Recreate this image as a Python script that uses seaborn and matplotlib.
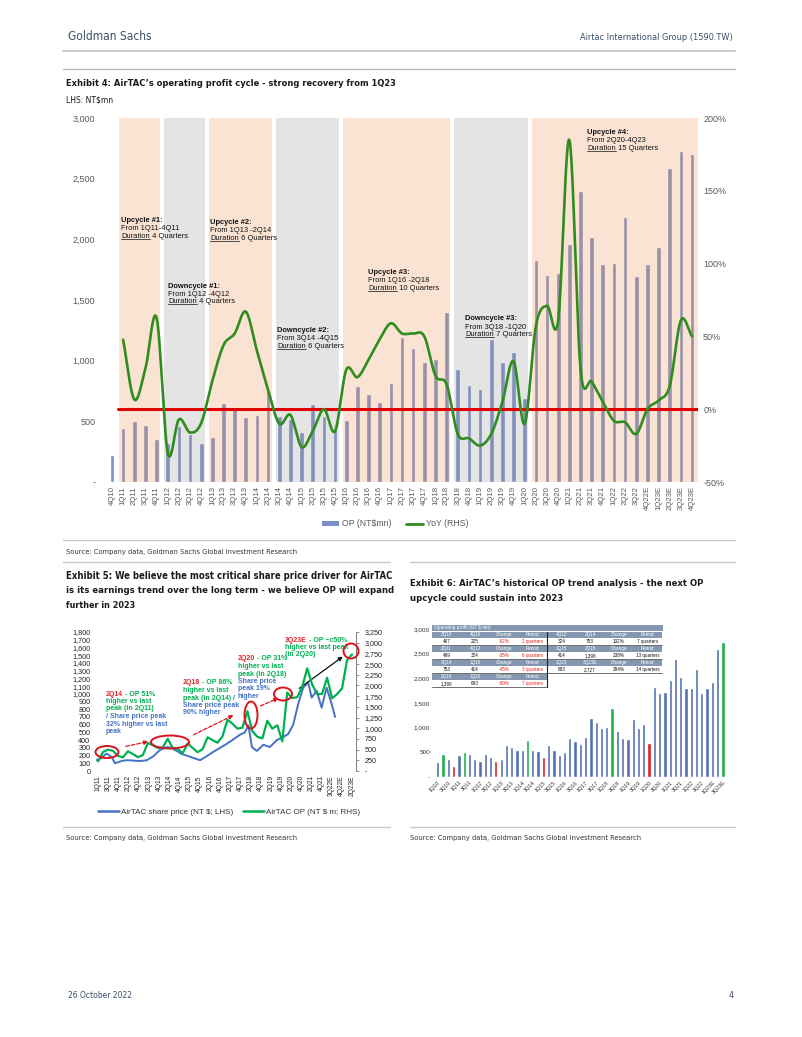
import numpy as np
import matplotlib
matplotlib.use("Agg")
import matplotlib.pyplot as plt
import seaborn as sns
from matplotlib import font_manager as fm
from matplotlib.lines import Line2D
from matplotlib.patches import Patch, Ellipse, Rectangle

# ---------------- data ----------------
quarters = ["4Q10", "1Q11", "2Q11", "3Q11", "4Q11", "1Q12", "2Q12", "3Q12", "4Q12",
            "1Q13", "2Q13", "3Q13", "4Q13", "1Q14", "2Q14", "3Q14", "4Q14",
            "1Q15", "2Q15", "3Q15", "4Q15", "1Q16", "2Q16", "3Q16", "4Q16",
            "1Q17", "2Q17", "3Q17", "4Q17", "1Q18", "2Q18", "3Q18", "4Q18",
            "1Q19", "2Q19", "3Q19", "4Q19", "1Q20", "2Q20", "3Q20", "4Q20",
            "1Q21", "2Q21", "3Q21", "4Q21", "1Q22", "2Q22", "3Q22", "4Q22E",
            "1Q23E", "2Q23E", "3Q23E", "4Q23E"]
op = [225, 444, 499, 471, 356, 318, 460, 397, 324,
      370, 655, 603, 538, 550, 753, 540, 518,
      414, 642, 540, 440, 510, 788, 722, 662,
      812, 1198, 1105, 992, 1013, 1398, 928, 800,
      763, 1175, 990, 1068, 693, 1832, 1706, 1726,
      1965, 2400, 2023, 1796, 1805, 2183, 1700, 1798,
      1933, 2590, 2727, 2700]
# YoY (%) from 1Q11 to 4Q23E
yoy = [47.7, 6.7, 28, 62.7, -30, -7, -16, -9.5,
       19.5, 44, 52, 67, 40, 13, -10, -4,
       -26, -15, 0, -15, 27, 22, 34, 48,
       59, 52, 52, 50, 23, 17, -17, -20,
       -25, -17, 5, 33, -10, 57, 71, 61,
       185, 28, 19, 5, -8, -9, -17, 0,
       6, 16, 61, 50]

cycle_start = [1, 5, 9, 15, 21, 31, 38]
cycle_end = [4, 8, 14, 20, 30, 37, 52]
cycle_kind = ["up", "down", "up", "down", "up", "down", "up"]
cycle_titles = ["Upcycle #1:", "Upcycle #2:", "Downcycle #1:", "Downcycle #2:",
                "Upcycle #3:", "Downcycle #3:", "Upcycle #4:"]
cycle_from = ["From 1Q11-4Q11", "From 1Q13 -2Q14", "From 1Q12 -4Q12", "From 3Q14 -4Q15",
              "From 1Q16 -2Q18", "From 3Q18 -1Q20", "From 2Q20-4Q23"]
cycle_dur = ["4 Quarters", "6 Quarters", "4 Quarters", "6 Quarters",
             "10 Quarters", "7 Quarters", "15 Quarters"]

left_ticks = [0, 500, 1000, 1500, 2000, 2500, 3000]
left_tick_labels = ["-", "500", "1,000", "1,500", "2,000", "2,500", "3,000"]
right_ticks = [-50, 0, 50, 100, 150, 200]
right_tick_labels = ["-50%", "0%", "50%", "100%", "150%", "200%"]

# Exhibit 5: share price (NT$) at quarter index (0 = 4Q10)
sp_q = [-0.3, 0.7, 1.7, 2.75, 3.4, 4.8, 5.8, 7.1, 8.4, 9.8, 11.1, 12.4, 13.8, 14.8,
        15.8, 16.8, 17.8, 19.1, 20.5, 21.8, 23.2, 24.5, 25.8, 27.2, 28.5, 29.5,
        30.2, 30.9, 31.9, 33.2, 34.5, 35.9, 37.2, 38.2, 39.2, 40.2, 41.2, 42.2,
        42.9, 43.9, 44.9, 45.9, 46.9, 47.6]
sp_val = [140, 170, 225, 180, 100, 130, 140, 135, 128, 140, 190, 270, 310, 300,
          260, 220, 200, 170, 140, 190, 250, 300, 350, 410, 470, 500,
          590, 310, 260, 340, 310, 400, 440, 480, 600, 870, 1080, 1145,
          950, 1040, 820, 1080, 870, 700]
ex5_xlabels = ["1Q11", "3Q11", "4Q11", "2Q12", "4Q12", "2Q13", "4Q13", "2Q14", "4Q14",
               "2Q15", "4Q15", "2Q16", "4Q16", "2Q17", "4Q17", "2Q18", "4Q18", "2Q19",
               "4Q19", "2Q20", "4Q20", "2Q21", "4Q21", "3Q22E", "4Q22E", "2Q23E"]
ex5_left_ticks = list(range(0, 1801, 100))
ex5_right_ticks = list(range(0, 3251, 250))

# Exhibit 6
ex6_pre_q = ["1Q10", "2Q10", "3Q10"]
ex6_pre_op = [307, 467, 355]
ex6_peaks = ["2Q10", "2Q11", "2Q14", "2Q18", "3Q23E"]
ex6_troughs = ["4Q10", "4Q12", "1Q15", "1Q20"]
tbl_left = [("2Q10", "4Q10", "467", "225", "-52%", "2 quarters"),
            ("2Q11", "4Q12", "499", "324", "-35%", "6 quarters"),
            ("2Q14", "1Q15", "753", "414", "-45%", "3 quarters"),
            ("2Q18", "1Q20", "1,398", "693", "-50%", "7 quarters")]
tbl_right = [("4Q12", "2Q14", "324", "753", "132%", "7 quarters"),
             ("1Q15", "2Q18", "414", "1,398", "238%", "13 quarters"),
             ("1Q20", "3Q23E", "693", "2,727", "294%", "14 quarters")]

# ---------------- style ----------------
sns.set_theme(style="white")
SANS = ["Liberation Sans", "DejaVu Sans"]
plt.rcParams["font.family"] = SANS

_fonts = fm.fontManager.ttflist
if any(f.name == "Liberation Sans Narrow" for f in _fonts):
    COND = dict(family=["Liberation Sans Narrow", "DejaVu Sans"])
elif any(f.name == "DejaVu Sans" and f.stretch in ("condensed", "semi-condensed") for f in _fonts):
    COND = dict(family=["DejaVu Sans"], fontstretch="condensed")
else:
    COND = dict(family=["Roboto", "Liberation Sans", "DejaVu Sans"])

W, H = 802, 1037
fig = plt.figure(figsize=(W / 100, H / 100), dpi=100)
fig.patch.set_facecolor("white")
REND = fig.canvas.get_renderer()


def fx(x):
    return x / W


def fy(y):
    return 1 - y / H


def rect(l, t, r, b):
    return [l / W, 1 - b / H, (r - l) / W, (b - t) / H]


def hline(x0, x1, y, color="#C8C8C8", lw=1.2):
    fig.add_artist(Line2D([fx(x0), fx(x1)], [fy(y), fy(y)], transform=fig.transFigure,
                          color=color, lw=lw))


def txt(x, y, s, **kw):
    kw.setdefault("va", "center")
    return fig.text(fx(x), fy(y), s, **kw)


def ctxt(x, y, s, width, size, **kw):
    """condensed-style text scaled to the reference width"""
    kw.update(COND)
    t = txt(x, y, s, fontsize=size, **kw)
    w = t.get_window_extent(REND).width
    if w > 0:
        t.set_fontsize(min(size * 1.15, size * width / w))
    return t


NAVY = "#3D4F6B"
GREY_T = "#595959"
BAR = "#7B90C8"
GREEN4 = "#2F8C1E"

# ---------------- page furniture ----------------
ctxt(68, 37, "Goldman Sachs", 84, 9.5, color=NAVY)
ctxt(733, 38, "Airtac International Group (1590.TW)", 153, 7.2, color=NAVY, ha="right")
hline(63, 735, 51, "#C9C9C9", 1.4)
hline(63, 735, 69, "#BDBDBD", 1.0)
ctxt(66, 84, "Exhibit 4: AirTAC\u2019s operating profit cycle - strong recovery from 1Q23", 328,
     8.5, fontweight="bold", color="#1A1A1A")
ctxt(66, 100, "LHS: NT$mn", 47, 7.5, color="#1A1A1A")
hline(63, 735, 540, "#C8C8C8", 1.0)
ctxt(66, 552, "Source: Company data, Goldman Sachs Global Investment Research", 227, 5.8,
     color="#333333")
hline(63, 390, 562, "#C8C8C8", 1.0)
hline(410, 735, 562, "#C8C8C8", 1.0)
for i, (line, wd) in enumerate([("Exhibit 5: We believe the most critical share price driver for AirTAC", 324),
                                ("is its earnings trend over the long term - we believe OP will expand", 325),
                                ("further in 2023", 69)]):
    ctxt(66, 576 + i * 14.5, line, wd, 8.5, fontweight="bold", color="#1A1A1A")
for i, (line, wd) in enumerate([("Exhibit 6: AirTAC\u2019s historical OP trend analysis - the next OP", 289),
                                ("upcycle could sustain into 2023", 152)]):
    ctxt(410, 584 + i * 14.5, line, wd, 8.5, fontweight="bold", color="#1A1A1A")
hline(63, 390, 827, "#C8C8C8", 1.0)
hline(410, 735, 827, "#C8C8C8", 1.0)
ctxt(66, 838, "Source: Company data, Goldman Sachs Global Investment Research", 227, 5.8,
     color="#333333")
ctxt(410, 838, "Source: Company data, Goldman Sachs Global Investment Research", 227, 5.8,
     color="#333333")
ctxt(68, 996, "26 October 2022", 65, 7.2, color=NAVY)
ctxt(734, 996, "4", 5, 7.2, color=NAVY, ha="right")

# ---------------- Exhibit 4 ----------------
ax = fig.add_axes(rect(106.4, 118, 697.6, 482))
sns.barplot(x=quarters, y=op, color=BAR, width=0.42, saturation=1, ax=ax, zorder=1)
ax.set_xlim(-0.5, len(quarters) - 0.5)
ax.set_ylim(0, 3000)
band_col = {"up": "#F39353", "down": "#979797"}
for s, e, k in zip(cycle_start, cycle_end, cycle_kind):
    x0 = s - 0.5 + 0.17
    x1 = e + 0.5 - (0.0 if e == len(quarters) - 1 else 0.17)
    ax.axvspan(x0, x1, color=band_col[k], alpha=0.25, lw=0, zorder=2)
ax.set_yticks(left_ticks)
ax.set_yticklabels(left_tick_labels)
ax.tick_params(axis="y", length=0, pad=8, labelsize=6.5, labelcolor=GREY_T)
ax.tick_params(axis="x", length=0, pad=3, labelsize=5.6, labelcolor=GREY_T, rotation=90)
ax.set_xlabel("")
ax.set_ylabel("")
for sp in ax.spines.values():
    sp.set_visible(False)
ax.grid(False)


def catmull(xs, ys, n=24):
    P = np.column_stack([xs, ys]).astype(float)
    E = np.vstack([2 * P[0] - P[1], P, 2 * P[-1] - P[-2]])
    t = np.linspace(0, 1, n, endpoint=False)[:, None]
    out = []
    for i in range(1, len(E) - 2):
        p0, p1, p2, p3 = E[i - 1], E[i], E[i + 1], E[i + 2]
        out.append(0.5 * (2 * p1 + (-p0 + p2) * t + (2 * p0 - 5 * p1 + 4 * p2 - p3) * t ** 2
                          + (-p0 + 3 * p1 - 3 * p2 + p3) * t ** 3))
    out.append(P[-1][None, :])
    return np.vstack(out)


ax2 = ax.twinx()
ax2.set_ylim(-50, 200)
ax2.set_xlim(-0.5, len(quarters) - 0.5)
ax2.axhline(0, xmin=1.0 / len(quarters), xmax=1, color="#E00000", lw=2.2, zorder=3)
curve = catmull(np.arange(1, len(quarters)), yoy)
ax2.plot(curve[:, 0], curve[:, 1], color=GREEN4, lw=1.9, zorder=4, solid_capstyle="round")
ax2.set_yticks(right_ticks)
ax2.set_yticklabels(right_tick_labels)
ax2.tick_params(axis="y", length=0, pad=4, labelsize=6.5, labelcolor=GREY_T)
for sp in ax2.spines.values():
    sp.set_visible(False)
ax2.grid(False)

note_pos = [(121, 221), (210, 223), (168, 286), (277, 331), (368, 273), (465, 319), (587, 133)]
dur_texts = []
for (x, y), ttl, frm, dur in zip(note_pos, cycle_titles, cycle_from, cycle_dur):
    txt(x, y, ttl, fontsize=5.4, fontweight="bold", color="#111111")
    txt(x, y + 8, frm, fontsize=5.4, color="#111111")
    t = txt(x, y + 16, "Duration", fontsize=5.4, color="#111111")
    ax.annotate(" " + dur, xy=(1, 0.5), xycoords=t, va="center", ha="left",
                fontsize=5.4, color="#111111", annotation_clip=False)
    dur_texts.append(t)

fig.legend([Patch(facecolor=BAR, edgecolor="none"), Line2D([], [], color=GREEN4, lw=2)],
           ["OP (NT$mn)", "YoY (RHS)"], loc="center", bbox_to_anchor=(fx(395), fy(524)),
           ncol=2, frameon=False, fontsize=6.3, labelcolor=GREY_T, handlelength=2.0,
           handleheight=0.6, columnspacing=1.6, handletextpad=0.3)

# ---------------- Exhibit 5 ----------------
BLUE5 = "#4472C4"
GREEN5 = "#00B050"
RED5 = "#E0262B"
ax5 = fig.add_axes(rect(96, 632, 356, 771))
sns.lineplot(x=sp_q, y=sp_val, ax=ax5, color=BLUE5, lw=1.4, estimator=None, sort=False)
ax5.set_xlim(-0.4, 51.8)
ax5.set_ylim(0, 1800)
ax5.set_yticks(ex5_left_ticks)
ax5.set_yticklabels([f"{v:,}" for v in ex5_left_ticks])
ax5.tick_params(axis="y", length=0, pad=4, labelsize=5.2, labelcolor="#222222")
ax5.set_xticks(np.linspace(0, 51, len(ex5_xlabels)))
ax5.set_xticklabels(ex5_xlabels, rotation=90)
ax5.tick_params(axis="x", length=0, pad=3, labelsize=4.8, labelcolor="#222222")
for sp in ax5.spines.values():
    sp.set_visible(False)
ax5.grid(False)
ax5b = ax5.twinx()
sns.lineplot(x=np.arange(len(quarters) - 1), y=op[:-1], ax=ax5b, color=GREEN5, lw=1.6)
ax5b.set_ylim(0, 3250)
ax5b.set_xlim(-0.4, 51.8)
ax5b.set_yticks(ex5_right_ticks)
ax5b.set_yticklabels(["-"] + [f"{v:,}" for v in ex5_right_ticks[1:]])
ax5b.tick_params(axis="y", length=2, width=0.6, color="#808080", pad=4, labelsize=5.2,
                 labelcolor="#222222", direction="out")
for k, sp in ax5b.spines.items():
    sp.set_visible(k == "right")
ax5b.spines["right"].set_color("#808080")
ax5b.spines["right"].set_linewidth(0.7)
ax5b.set_ylabel("")
ax5b.grid(False)


def rich(x, y, parts, size=5.0):
    prev = None
    for s, c in parts:
        if prev is None:
            prev = txt(x, y, s, fontsize=size, fontweight="bold", color=c)
        else:
            prev = ax5.annotate(s, xy=(1, 0), xycoords=prev, va="bottom", ha="left",
                                fontsize=size, fontweight="bold", color=c, annotation_clip=False)


notes5 = [
    (106, 694, [[("2Q14", RED5), (" - OP 51%", GREEN5)], [("higher vs last", GREEN5)],
                [("peak (in 2Q11)", GREEN5)], [("/ Share price peak", BLUE5)],
                [("32% higher vs last", BLUE5)], [("peak", BLUE5)]]),
    (183, 683, [[("2Q18", RED5), (" - OP 86%", GREEN5)], [("higher vs last", GREEN5)],
                [("peak (in 2Q14) ", GREEN5), ("/", BLUE5)], [("Share price peak", BLUE5)],
                [("90% higher", BLUE5)]]),
    (238, 659, [[("2Q20", RED5), (" - OP 31%", GREEN5)], [("higher vs last", GREEN5)],
                [("peak (in 2Q18)", GREEN5)], [("Share price", BLUE5)],
                [("peak 19%", BLUE5)], [("higher", BLUE5)]]),
    (285, 640, [[("3Q23E", RED5), (" - OP ~c50%", GREEN5)], [("higher vs last peak", GREEN5)],
                [("(in 2Q20)", GREEN5)]]),
]
for x, y, lines in notes5:
    for i, parts in enumerate(lines):
        rich(x, y + i * 7.5, parts)

for cx, cy, w, h in [(107, 752, 23, 12), (170, 742, 38, 13), (251, 715, 13, 27),
                     (283, 694, 18, 13), (351, 651, 15, 15)]:
    fig.add_artist(Ellipse((fx(cx), fy(cy)), w / W, h / H, transform=fig.transFigure,
                           fill=False, edgecolor="#D9141C", lw=1.4))
for (x0, y0), (x1, y1), c in [((123, 747), (151, 741), "#D9141C"),
                              ((191, 736), (236, 714), "#D9141C"),
                              ((258, 707), (281, 697), "#D9141C"),
                              ((297, 690), (345, 655), "#111111")]:
    ax5.annotate("", xy=(fx(x1), fy(y1)), xycoords="figure fraction",
                 xytext=(fx(x0), fy(y0)), textcoords="figure fraction",
                 arrowprops=dict(arrowstyle="-|>", color=c, lw=0.9, mutation_scale=6,
                                 linestyle=(0, (3, 1.5)) if c != "#111111" else "-"),
                 annotation_clip=False)

fig.legend([Line2D([], [], color=BLUE5, lw=1.8), Line2D([], [], color=GREEN5, lw=1.8)],
           ["AirTAC share price (NT $; LHS)", "AirTAC OP (NT $ m; RHS)"], loc="center",
           bbox_to_anchor=(fx(229), fy(812)), ncol=2, frameon=False, fontsize=5.8,
           labelcolor="#333333", handlelength=2.6, columnspacing=1.2, handletextpad=0.3)

# ---------------- Exhibit 6 ----------------
q6 = ex6_pre_q + quarters[:-1]
op6 = ex6_pre_op + op[:-1]
cols6 = ["#1FB04A" if q in ex6_peaks else "#E0201B" if q in ex6_troughs else "#5470B0"
         for q in q6]
ax6 = fig.add_axes(rect(433, 629, 728, 777))
sns.barplot(x=q6, y=op6, hue=q6, palette=cols6, legend=False, saturation=1, width=0.62,
            dodge=False, ax=ax6)
ax6.set_xlim(-0.9, len(q6) - 1 + 0.95)
ax6.set_ylim(0, 3000)
ax6.set_yticks([0, 500, 1000, 1500, 2000, 2500, 3000])
ax6.set_yticklabels(["-", "500", "1,000", "1,500", "2,000", "2,500", "3,000"])
ax6.tick_params(axis="y", length=0, pad=2, labelsize=4.6, labelcolor="#333333")
ax6.set_xticks(range(0, len(q6), 2))
ax6.set_xticklabels(q6[::2], rotation=45, ha="right", rotation_mode="anchor")
ax6.tick_params(axis="x", length=0, pad=2, labelsize=3.9, labelcolor="#333333")
ax6.set_xlabel("")
ax6.set_ylabel("")
for sp in ax6.spines.values():
    sp.set_visible(False)
ax6.grid(False)

HDR = "#8497B0"
TX0, TXM, TX1 = 432, 547, 663


def box(l, t, r, b, color):
    fig.add_artist(Rectangle((fx(l), fy(b)), (r - l) / W, (b - t) / H, transform=fig.transFigure,
                             facecolor=color, edgecolor="none", zorder=5))


box(TX0, 625, TX1, 631, HDR)
txt(TX0 + 2, 628, "Operating profit (NT $ mn)", fontsize=3.4, color="white", zorder=6)
col_w = (TXM - TX0) / 4.0
row_top = [632, 646, 660, 674]
for block, x_start, red in [(tbl_left, TX0, True), (tbl_right, TXM, False)]:
    for r, row in enumerate(block):
        yt = row_top[r]
        box(x_start, yt, x_start + (TXM - TX0), yt + 5.5, HDR)
        box(x_start, yt + 5.5, x_start + (TXM - TX0), yt + 13, "white")
        heads = [row[0], row[1], "Change", "Period"]
        vals = [row[2], row[3], row[4], row[5]]
        for c in range(4):
            cxp = x_start + col_w * (c + 0.5)
            txt(cxp, yt + 2.9, heads[c], fontsize=3.3, color="white", ha="center", zorder=6)
            vcol = "#E0201B" if (red and c >= 2) else "#111111"
            txt(cxp, yt + 9.3, vals[c], fontsize=3.3, color=vcol, ha="center", zorder=6)
        hline(x_start, x_start + (TXM - TX0), yt + 13, "#333333", 0.5)
fig.add_artist(Line2D([fx(TXM), fx(TXM)], [fy(632), fy(687)], transform=fig.transFigure,
                      color="#222222", lw=0.8, zorder=7))

fig.canvas.draw()
rend = fig.canvas.get_renderer()
for t in dur_texts:
    bb = t.get_window_extent(rend)
    fig.add_artist(Line2D([bb.x0 / W, bb.x1 / W], [(bb.y0 + 1.2) / H, (bb.y0 + 1.2) / H],
                          transform=fig.transFigure, color="#333333", lw=0.6))

fig.savefig("out.png", dpi=100)
